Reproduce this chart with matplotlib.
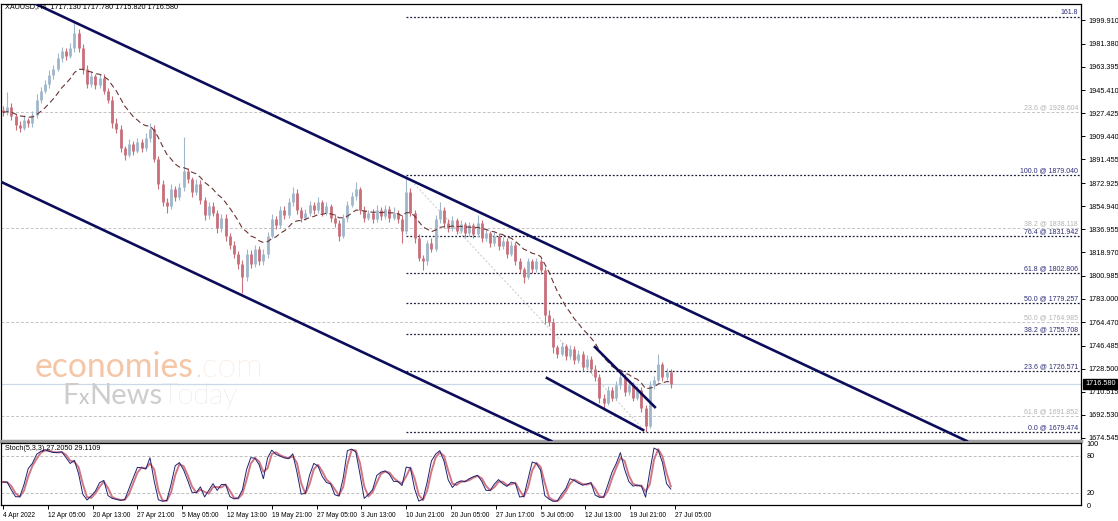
import numpy as np
import pandas as pd
import matplotlib
matplotlib.use("Agg")
import matplotlib.pyplot as plt
import matplotlib.transforms as mtransforms

# XAUUSD H4, 4 Apr - 27 Jul 2022, resampled to ~12h bars
open_first = 1930.0
closes = [
    1928, 1932, 1925, 1918, 1916, 1922, 1920, 1926, 1938, 1945,
    1950, 1957, 1962, 1970, 1976, 1972, 1978, 1990, 1978, 1962,
    1950, 1956, 1949, 1955, 1945, 1938, 1920, 1915, 1900, 1895,
    1903, 1898, 1905, 1900, 1908, 1915, 1892, 1872, 1858, 1855,
    1868, 1862, 1870, 1882, 1876, 1866, 1872, 1860, 1848, 1855,
    1850, 1838, 1846, 1832, 1825, 1818, 1810, 1800, 1818, 1810,
    1822, 1812, 1818, 1832, 1845, 1840, 1852, 1848, 1858, 1865,
    1852, 1846, 1850, 1856, 1852, 1858, 1850, 1855, 1846, 1842,
    1832, 1846, 1856, 1863, 1868, 1852, 1846, 1850, 1845, 1852,
    1847, 1853, 1846, 1850, 1845, 1836, 1866, 1850, 1830, 1815,
    1812, 1826, 1822, 1845, 1852, 1842, 1838, 1844, 1836, 1841,
    1834, 1840, 1833, 1842, 1830, 1834, 1826, 1832, 1824, 1828,
    1818, 1825, 1812, 1806, 1800, 1812, 1806, 1812, 1805, 1770,
    1765, 1745, 1740, 1746, 1738, 1744, 1735, 1740, 1730, 1736,
    1728, 1722, 1706, 1702, 1712, 1706, 1716, 1722, 1710, 1716,
    1706, 1712, 1698, 1684, 1716, 1720, 1732, 1722, 1726, 1716.58,
]
wick_up = [
    3, 12, 3, 2, 3, 4, 2, 3, 4, 3,
    3, 4, 3, 4, 3, 2, 4, 8, 3, 3,
    3, 4, 2, 3, 3, 2, 3, 4, 3, 2,
    4, 3, 3, 2, 4, 5, 3, 2, 3, 3,
    4, 3, 3, 27, 3, 2, 4, 3, 2, 3,
    3, 2, 3, 3, 2, 3, 2, 3, 4, 3,
    3, 2, 4, 3, 4, 2, 3, 3, 3, 5,
    3, 2, 3, 3, 2, 4, 2, 3, 2, 3,
    2, 3, 3, 3, 6, 2, 3, 2, 3, 4,
    2, 3, 2, 4, 2, 3, 13, 3, 2, 3,
    2, 3, 4, 3, 6, 2, 3, 3, 2, 3,
    2, 3, 2, 6, 2, 3, 2, 3, 2, 3,
    2, 3, 2, 3, 2, 3, 2, 3, 2, 3,
    4, 3, 2, 3, 2, 3, 2, 3, 2, 3,
    2, 3, 2, 3, 3, 2, 3, 3, 2, 3,
    2, 3, 2, 2, 3, 3, 8, 2, 3, 2,
]
wick_dn = [
    3, 2, 3, 4, 3, 2, 3, 3, 2, 3,
    2, 3, 3, 2, 3, 3, 2, 3, 3, 4,
    3, 2, 3, 2, 3, 3, 4, 3, 3, 4,
    2, 3, 2, 3, 2, 3, 3, 4, 3, 5,
    2, 3, 2, 3, 3, 4, 2, 3, 4, 3,
    3, 4, 3, 4, 3, 3, 4, 13, 3, 3,
    2, 3, 3, 3, 2, 3, 2, 3, 2, 3,
    3, 3, 2, 3, 3, 2, 3, 2, 3, 3,
    4, 2, 3, 2, 3, 3, 3, 2, 3, 2,
    3, 2, 3, 2, 3, 10, 3, 3, 4, 3,
    7, 3, 3, 2, 3, 3, 3, 2, 3, 2,
    3, 2, 3, 2, 3, 2, 3, 2, 3, 2,
    3, 2, 3, 3, 5, 2, 3, 2, 3, 7,
    3, 4, 3, 2, 3, 2, 3, 2, 3, 2,
    3, 3, 4, 5, 2, 3, 2, 3, 3, 2,
    3, 2, 3, 4.5, 2, 3, 2, 3, 2, 3,
]

price_ticks = [1999.910, 1981.380, 1963.395, 1945.410, 1927.425, 1909.440, 1891.455,
               1872.925, 1854.940, 1836.955, 1818.970, 1800.985, 1783.000, 1764.470,
               1746.485, 1728.500, 1710.515, 1692.530, 1674.545]
time_labels = ["4 Apr 2022", "12 Apr 05:00", "20 Apr 13:00", "27 Apr 21:00", "5 May 05:00",
               "12 May 13:00", "19 May 21:00", "27 May 05:00", "3 Jun 13:00", "10 Jun 21:00",
               "20 Jun 05:00", "27 Jun 17:00", "5 Jul 05:00", "12 Jul 13:00", "19 Jul 21:00",
               "27 Jul 05:00"]

# fibonacci drawn from the 10 Jun high to the 21 Jul low
fib_levels = ["0.0", "23.6", "38.2", "50.0", "61.8", "76.4", "100.0", "161.8"]
fib_prices = [1679.474, 1726.571, 1755.708, 1779.257, 1802.806, 1831.942, 1879.040, 2002.372]
fib_start_bar, fib_end_bar = 96, 153
# older (grey) fibonacci levels
old_fib_levels = ["23.6", "38.2", "50.0", "61.8"]
old_fib_prices = [1928.604, 1838.118, 1764.985, 1691.852]

# channel and wedge anchors: (bar, price)
upper_channel = [(15.95, 1999.9), (156.4, 1784.3)]
lower_channel = [(-0.71, 1874.3), (129.0, 1674.5)]
wedge_top = [(140.95, 1745.3), (155.2, 1698.6)]
wedge_bottom = [(129.5, 1721.2), (152.4, 1680.7)]

header = "XAUUSD,H4  1717.130 1717.780 1715.820 1716.580"
stoch_title = "Stoch(5,3,3) 27.2050 29.1109"

plt.rcParams["font.family"] = ["Liberation Sans", "DejaVu Sans"]
FS = 5.2

closes = np.array(closes, dtype=float)
opens = np.r_[open_first, closes[:-1]]
highs = np.maximum(opens, closes) + np.array(wick_up)
lows = np.minimum(opens, closes) - np.array(wick_dn)
n = len(closes)
x = np.arange(n)

W, H = 1118, 521
fig = plt.figure(figsize=(W / 100, H / 100), dpi=100)
fig.patch.set_facecolor("white")


def box(x0, y0, x1, y1):
    return [x0 / W, 1 - y1 / H, (x1 - x0) / W, (y1 - y0) / H]


ax = fig.add_axes(box(1, 4, 1081, 441))
ax2 = fig.add_axes(box(1, 443, 1081, 505), sharex=ax)

px_per_bar = 4.2
ax.set_xlim((1 - 3) / px_per_bar, (1081 - 3) / px_per_bar)
ax.set_ylim(1672.16, 2012.37)

trans = mtransforms.blended_transform_factory(ax.transAxes, ax.transData)

# grey fib levels across the whole chart
for lvl, p in zip(old_fib_levels, old_fib_prices):
    ax.axhline(p, color="#c4c4c4", lw=0.7, ls=(0, (3, 2)), zorder=1)
    ax.annotate(f"{lvl} @ {p:.3f}", xy=(1, p), xycoords=trans, xytext=(-2, 0.5),
                textcoords="offset points", ha="right", va="bottom",
                fontsize=5, color="#b4b4b4")

# dark fib levels from the anchor bar to the right edge
for lvl, p in zip(fib_levels, fib_prices):
    ax.hlines(p, fib_start_bar, ax.get_xlim()[1], color="#1b1b3a", lw=0.9,
              linestyles=(0, (1.5, 1.5)), zorder=2)
    txt = lvl if lvl == "161.8" else f"{lvl} @ {p:.3f}"
    ax.annotate(txt, xy=(1, p), xycoords=trans, xytext=(-2, 0.5),
                textcoords="offset points", ha="right", va="bottom",
                fontsize=5, color="#2b2b7a")
ax.plot([fib_start_bar, fib_end_bar], [fib_prices[6], fib_prices[0]], color="#c8c8c8",
        lw=0.7, ls=(0, (2, 2)), zorder=1)

# bid line
ax.axhline(closes[-1], color="#c9d9e8", lw=0.9, zorder=1)

# candles
col = np.where(closes >= opens, "#9fb7cb", "#c86f7a")
ax.vlines(x, lows, highs, colors=col, lw=0.8, zorder=3)
ax.vlines(x, np.minimum(opens, closes), np.maximum(opens, closes), colors=col, lw=2.0, zorder=3)

# moving average
ma = pd.Series(closes).ewm(span=14, adjust=False).mean()
ax.plot(x, ma, color="#6a3434", lw=0.8, ls=(0, (5, 3)), zorder=4)

# channel and wedge
for pts in (upper_channel, lower_channel):
    ax.axline(pts[0], pts[1], color="#0c0c5a", lw=1.9, zorder=5)
for pts in (wedge_top, wedge_bottom):
    ax.plot([pts[0][0], pts[1][0]], [pts[0][1], pts[1][1]], color="#0c0c5a", lw=1.9, zorder=5)

ax.yaxis.tick_right()
ax.set_yticks(price_ticks)
ax.set_yticklabels([f"{p:.3f}" for p in price_ticks])
ax.tick_params(axis="y", labelsize=FS, length=3, width=0.7, pad=2)
ax.tick_params(axis="x", bottom=False, labelbottom=False)
for s in ax.spines.values():
    s.set_color("black")
    s.set_linewidth(0.9)
ax.spines["bottom"].set_color("#a0a0a0")
ax.spines["bottom"].set_linewidth(2.5)

ax.annotate(f"{closes[-1]:.3f}", xy=(1, closes[-1]), xycoords=trans, xytext=(3, 0),
            textcoords="offset points", ha="left", va="center", fontsize=FS,
            color="white", annotation_clip=False, zorder=10,
            bbox=dict(boxstyle="square,pad=0.25", fc="black", ec="black"))

# stochastic (computed on the resampled bars)
k_per, slow, d_per = 3, 2, 2
ll = pd.Series(lows).rolling(k_per, min_periods=1).min()
hh = pd.Series(highs).rolling(k_per, min_periods=1).max()
num = (pd.Series(closes) - ll).rolling(slow, min_periods=1).sum()
den = (hh - ll).rolling(slow, min_periods=1).sum()
k_line = 100 * num / den
d_line = k_line.rolling(d_per, min_periods=1).mean()

ax2.set_ylim(0, 101)
ax2.axhline(80, color="#bcbcbc", lw=0.7, ls=(0, (3, 2)))
ax2.axhline(20, color="#bcbcbc", lw=0.7, ls=(0, (3, 2)))
ax2.plot(x, d_line, color="#d27684", lw=1.4)
ax2.plot(x, k_line, color="#1e2470", lw=0.7)
ax2.yaxis.tick_right()
ax2.set_yticks([100, 80, 20, 0])
ax2.set_yticklabels(["100", "80", "20", "0"])
ax2.tick_params(axis="y", labelsize=FS, length=0, pad=4)
for s in ax2.spines.values():
    s.set_color("black")
    s.set_linewidth(0.9)

tick_pos = np.arange(len(time_labels)) * 32 / 3
ax2.set_xticks(tick_pos)
ax2.set_xticklabels(time_labels)
ax2.tick_params(axis="x", labelsize=4.8, length=3, width=0.7, pad=2)
for lbl in ax2.get_xticklabels():
    lbl.set_ha("left")

fig.text(5 / W, 1 - 7 / H, header, fontsize=FS, va="center", ha="left")
fig.text(5 / W, 1 - 449 / H, stoch_title, fontsize=FS, va="center", ha="left")

# watermark, pieces laid out one after another
renderer = fig.canvas.get_renderer()


def chain(x0, y0, parts):
    xpos = x0
    for s, size, weight, color in parts:
        t = fig.text(xpos / W, 1 - y0 / H, s, fontsize=size, family="Lato", weight=weight,
                     color=color, va="baseline", ha="left", zorder=0)
        xpos += t.get_window_extent(renderer).width


chain(35, 377, [("economies", 24.3, "normal", "#f5c6a5"), (".com", 24.3, "light", "#f3d8c6")])
chain(62, 404, [("F", 21, "normal", "#cdcdcd"), ("x", 15, "normal", "#c4c4c4"),
                ("News", 21, "normal", "#cdcdcd"), ("Today", 21, "light", "#d6d6d6")])

fig.savefig("out.png", dpi=100)
